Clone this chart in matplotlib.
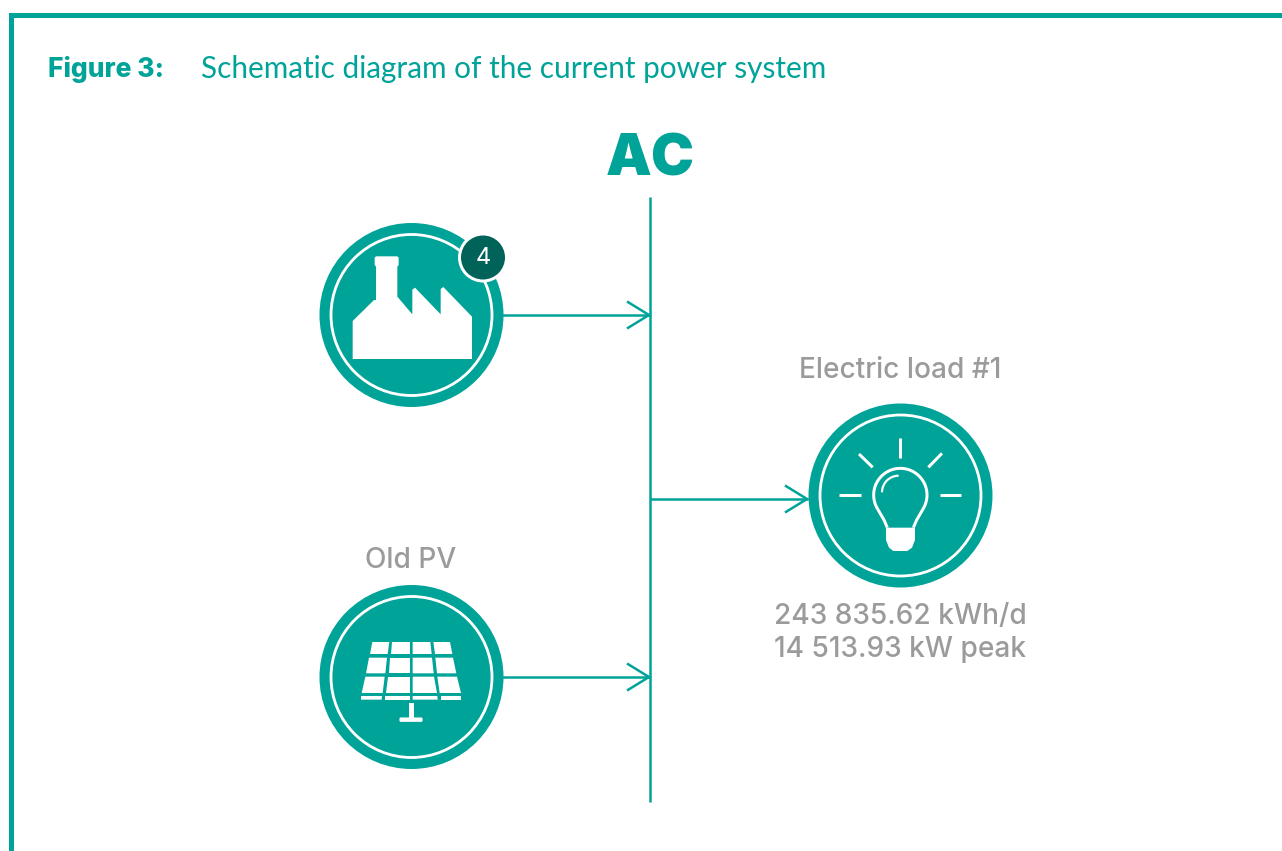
import matplotlib
matplotlib.use("Agg")
import matplotlib.pyplot as plt
import numpy as np
from matplotlib.patches import Circle, Polygon, FancyBboxPatch, Rectangle, Arc

TEAL = "#00a398"
DARK = "#00635a"
GREY = "#9b9b9b"

title_bold = "Figure 3:"
title_text = "Schematic diagram of the current power system"
bus_label = "AC"
badge_count = "4"
load_label = "Electric load #1"
load_values = ["243 835.62 kWh/d", "14 513.93 kW peak"]
pv_label = "Old PV"

W, H = 1282, 851
fig = plt.figure(figsize=(W / 100, H / 100), dpi=100)
ax = fig.add_axes([0, 0, 1, 1])
ax.set_xlim(0, W)
ax.set_ylim(H, 0)
ax.axis("off")

# px -> pt line width
def lw(px):
    return px * 72 / 100

# frame
ax.plot([10.5, 10.5, W], [H, 14.5, 14.5], color=TEAL, lw=lw(5), solid_joinstyle="miter", solid_capstyle="butt")

# title
ax.text(48, 69.5, title_bold, color=TEAL, fontsize=19, fontweight="heavy", family="Inter", va="center", ha="left")
ax.text(201, 69, title_text, color=TEAL, fontsize=21.4, family="Lato", fontweight="normal", va="center", ha="left")
ax.text(650, 161, bus_label, color=TEAL, fontsize=41.5, fontweight="black", family="Inter", va="center", ha="center")

# bus and connectors
def line(xs, ys, width=2.5):
    ax.plot(xs, ys, color=TEAL, lw=lw(width), solid_capstyle="butt", solid_joinstyle="miter", zorder=1)

line([650, 650], [197, 802])

def arrow(x0, x1, y):
    line([x0, x1], [y, y])
    line([x1 - 23, x1 - 1, x1 - 23], [y - 13.5, y, y + 13.5])

arrow(500, 650, 315)
arrow(500, 650, 677)
arrow(650, 808, 499)

def badge(cx, cy):
    ax.add_patch(Circle((cx, cy), 92, fc=TEAL, ec="none", zorder=2))
    ax.add_patch(Circle((cx, cy), 80.5, fc="none", ec="white", lw=lw(2.8), zorder=3))

def zoomed(pts, ox, oy):
    return [(ox + x / 3, oy + y / 3) for x, y in pts]

# factory
badge(411.5, 315)
factory = [(128, 432), (128, 318), (192, 255), (198, 255), (198, 155), (194, 150), (194, 128), (198, 124),
           (262, 124), (266, 128), (266, 150), (262, 155), (262, 245), (307, 298), (307, 224), (315, 218),
           (392, 298), (392, 222), (400, 216), (486, 305), (486, 432)]
ax.add_patch(Polygon(zoomed(factory, 310, 215), closed=True, fc="white", ec="none", zorder=4))
ax.add_patch(Circle((483, 257.5), 25, fc="white", ec="none", zorder=5))
ax.add_patch(Circle((483, 257.5), 22, fc=DARK, ec="none", zorder=6))
ax.text(483, 257.5, badge_count, color="white", fontsize=17, family="Inter", va="center", ha="center", zorder=7)

# bulb
badge(900.5, 495.5)
ox, oy = 800, 395
def ray(p, q):
    (x0, y0), (x1, y1) = zoomed([p, q], ox, oy)
    ax.plot([x0, x1], [y0, y1], color="white", lw=lw(3), solid_capstyle="butt", zorder=4)
ray((301, 128), (301, 190))
ray((177, 177), (218, 217))
ray((426, 175), (385, 217))
ray((117, 300), (183, 300))
ray((420, 300), (484, 300))
glass_angles = np.radians(np.linspace(150, 390, 60))
glass_top = [(301 + 80 * np.cos(a), 300 + 80 * np.sin(a)) for a in glass_angles]
bulb_outline = [(262, 398), (252, 375)] + glass_top + [(350, 375), (340, 398)]
ax.add_patch(Polygon(zoomed(bulb_outline, ox, oy), closed=False, fc="none", ec="white", lw=lw(3), joinstyle="round", zorder=4))
base = [(258, 398), (345, 398), (345, 435), (336, 458), (322, 468), (280, 468), (267, 458), (258, 435)]
ax.add_patch(Polygon(zoomed(base, ox, oy), closed=True, fc="white", ec="none", zorder=4))
cx, cy = zoomed([(296, 292)], ox, oy)[0]
ax.add_patch(Arc((cx, cy), 100 / 3, 100 / 3, theta1=180, theta2=270, ec="white", lw=lw(2.2), zorder=4))

# panel
badge(411.5, 677)
ox, oy = 310, 580
rows = [
    [[(187, 186), (238, 186), (233, 222), (180, 222)], [(247, 186), (299, 186), (299, 222), (243, 222)],
     [(308, 186), (361, 186), (365, 222), (308, 222)], [(370, 186), (420, 186), (427, 222), (375, 222)]],
    [[(177, 233), (231, 233), (226, 280), (168, 280)], [(241, 233), (299, 233), (299, 280), (236, 280)],
     [(308, 233), (366, 233), (371, 280), (308, 280)], [(376, 233), (429, 233), (439, 280), (381, 280)]],
    [[(166, 290), (224, 290), (218, 339), (155, 339)], [(235, 290), (299, 290), (299, 339), (228, 339)],
     [(308, 290), (372, 290), (381, 339), (308, 339)], [(382, 290), (441, 290), (453, 339), (389, 339)]],
    [[(153, 348), (216, 348), (215, 359), (153, 359)], [(226, 348), (299, 348), (299, 359), (224, 359)],
     [(308, 348), (382, 348), (383, 359), (308, 359)], [(392, 348), (454, 348), (454, 359), (392, 359)]],
]
for row in rows:
    for cell in row:
        ax.add_patch(Polygon(zoomed(cell, ox, oy), closed=True, fc="white", ec="none", zorder=4))
ax.add_patch(Rectangle((310 + 296 / 3, 580 + 370 / 3), 16 / 3, 45 / 3, fc="white", ec="none", zorder=4))
ax.add_patch(FancyBboxPatch((310 + 272 / 3, 580 + 416 / 3), 62 / 3, 6 / 3, boxstyle="round,pad=1.2", fc="white", ec="none", zorder=4))

# grey labels
grey_kw = dict(color=GREY, fontsize=20.2, family="Inter", fontweight="medium", va="center", ha="center")
ax.text(900.5, 370, load_label, **grey_kw)
ax.text(411, 560, pv_label, **grey_kw)
ax.text(900.5, 616.5, load_values[0], **grey_kw)
ax.text(900.5, 649.5, load_values[1], **grey_kw)

fig.savefig("out.png", dpi=100, facecolor="white")
